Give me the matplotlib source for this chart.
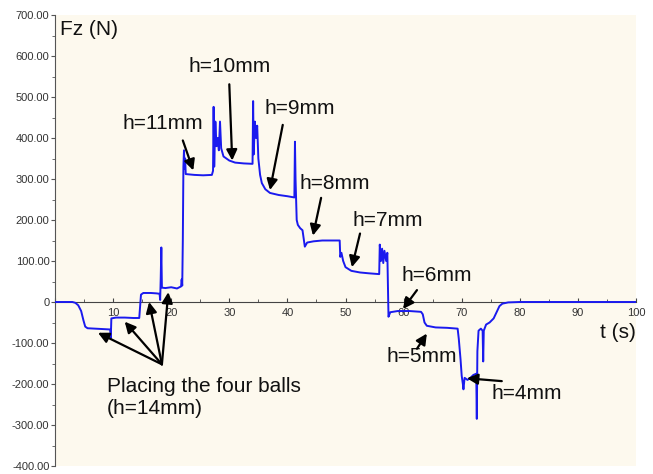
import matplotlib
matplotlib.use('Agg')
import matplotlib.pyplot as plt
from matplotlib.ticker import MultipleLocator, FuncFormatter

# force signal: time (s) and Fz (N)
t = [0, 3.0, 3.5, 4.0, 4.5, 4.9, 5.2, 5.6, 7.0, 8.5, 9.5, 9.6, 9.7, 10.5, 12.0,
     13.5, 14.5, 14.6, 14.8, 15.2, 16.5, 17.5, 18.0, 18.1, 18.2, 18.3, 18.4,
     19.0, 20.0, 21.0, 21.7, 21.8, 21.9, 22.0, 22.1, 22.2, 22.3, 22.4, 22.5,
     24.0, 25.5, 27.0, 27.2, 27.3, 27.4, 27.6, 27.8, 28.0, 28.2, 28.4, 28.6,
     29.0, 30.0, 31.0, 32.5, 34.0, 34.1, 34.2, 34.4, 34.6, 34.8, 35.0, 35.3,
     35.6, 36.2, 37.0, 38.5, 40.0, 41.2, 41.3, 41.4, 41.6, 41.8, 42.2, 42.6,
     43.0, 43.4, 44.5, 46.0, 47.5, 49.0, 49.1, 49.3, 49.6, 50.0, 51.0, 52.5,
     54.0, 55.8, 55.9, 56.1, 56.3, 56.5, 56.7, 57.0, 57.2, 57.4, 57.7, 59.0,
     61.0, 63.0, 63.3, 63.6, 64.0, 65.5, 67.5, 69.3, 69.5, 69.8, 70.0, 70.2,
     70.3, 70.5, 71.0, 71.5, 72.0, 72.5, 72.6, 72.7, 72.9, 73.3, 73.6, 73.7,
     73.8, 74.2, 74.8, 75.5, 76.0, 76.5, 77.0, 78.0, 80.0, 100.0]
fz = [0, 0, -2, -8, -22, -45, -60, -64, -65, -66, -67, -88, -40, -38, -38,
      -39, -39, -20, 18, 22, 22, 21, 20, 5, 60, 133, 35,
      34, 36, 33, 38, 55, 40, 150, 330, 370, 325, 350, 312,
      310, 309, 310, 320, 476, 330, 440, 380, 400, 370, 440, 375,
      355, 345, 340, 338, 337, 490, 360, 440, 400, 430, 350, 310,
      290, 275, 266, 261, 258, 255, 391, 300, 200, 188, 180, 175,
      135, 145, 148, 150, 150, 150, 110, 120, 100, 85, 76, 72,
      70, 68, 140, 100, 130, 95, 125, 100, 120, -36, -25, -22,
      -22, -24, -30, -50, -58, -62, -63, -65, -90, -140, -180, -200,
      -213, -185, -190, -185, -178, -175, -285, -120, -70, -65, -70, -145,
      -70, -55, -50, -40, -25, -10, -4, -1, 0, 0]

# annotations: label, text position, arrow tail, arrow head
labels = ['h=11mm', 'h=10mm', 'h=9mm', 'h=8mm', 'h=7mm', 'h=6mm', 'h=5mm', 'h=4mm']
label_pos = [(18.6, 435), (30.1, 575), (42.2, 471), (48.2, 290), (57.3, 200),
             (65.7, 65), (63.2, -133), (81.2, -222)]
arrow_tail = [(22.0, 394), (30.0, 531), (39.2, 432), (45.8, 254), (52.5, 167),
              (62.3, 29), (62.3, -114), (76.9, -193)]
arrow_head = [(23.8, 321), (30.5, 345), (37.0, 273), (44.4, 162), (51.1, 85),
              (59.9, -17), (64.0, -77), (70.9, -186)]
balls_tail = (18.4, -152)
balls_heads = [(7.4, -75), (12.0, -48), (16.2, 0), (19.5, 24)]

plt.rcParams['font.family'] = ['Liberation Sans', 'DejaVu Sans']

fig = plt.figure(figsize=(6.53, 4.74), dpi=100)
ax = fig.add_axes([55 / 653, 8 / 474, 581 / 653, 451 / 474])
ax.set_facecolor('#fdf9ee')

ax.plot(t, fz, color='#1a1aee', linewidth=1.4, zorder=3)

ax.set_xlim(0, 100)
ax.set_ylim(-400, 700)

for s in ['top', 'right']:
    ax.spines[s].set_visible(False)
ax.spines['bottom'].set_position(('data', 0))
ax.spines['bottom'].set_color('#444444')
ax.spines['left'].set_color('#555555')

ax.xaxis.set_major_locator(MultipleLocator(10))
ax.xaxis.set_minor_locator(MultipleLocator(5))
ax.yaxis.set_major_locator(MultipleLocator(100))
ax.yaxis.set_minor_locator(MultipleLocator(50))
ax.xaxis.set_major_formatter(FuncFormatter(lambda v, p: '' if v == 0 else '%d' % v))
ax.yaxis.set_major_formatter(FuncFormatter(lambda v, p: '0' if v == 0 else '%.2f' % v))
ax.tick_params(axis='x', which='major', direction='in', length=3, color='#444444',
               labelsize=8, labelcolor='#333333', pad=4)
ax.tick_params(axis='x', which='minor', direction='in', length=2, color='#444444')
ax.tick_params(axis='y', which='major', direction='out', length=3, color='#555555',
               labelsize=8, labelcolor='#333333', pad=1)
ax.tick_params(axis='y', which='minor', direction='out', length=2, color='#555555')

ax.text(0.9, 664, 'Fz (N)', fontsize=15, color='#111111', va='center', ha='left')
ax.text(99.9, -75, 't (s)', fontsize=15, color='#111111', va='center', ha='right')

arrow_style = dict(arrowstyle='-|>', color='black', lw=1.6, mutation_scale=16,
                   shrinkA=0, shrinkB=0)
for lab, pos, tail, head in zip(labels, label_pos, arrow_tail, arrow_head):
    ax.text(pos[0], pos[1], lab, fontsize=15, color='#111111', ha='center', va='center')
    ax.annotate('', xy=head, xytext=tail, arrowprops=arrow_style, zorder=4)

for head in balls_heads:
    ax.annotate('', xy=head, xytext=balls_tail, arrowprops=arrow_style, zorder=4)
ax.text(8.9, -232, 'Placing the four balls\n(h=14mm)', fontsize=15, color='#111111',
        ha='left', va='center', linespacing=1.2)

fig.savefig('out.png', dpi=100, facecolor='white')
